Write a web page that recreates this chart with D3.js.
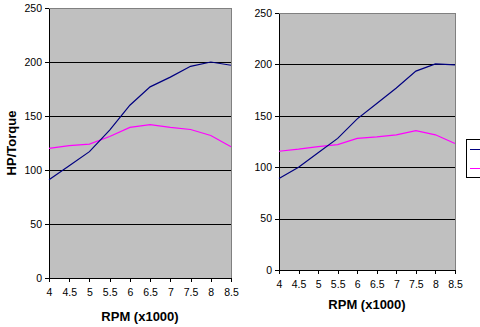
<!DOCTYPE html>
<html><head><meta charset="utf-8">
<script src="https://cdn.jsdelivr.net/npm/d3@7"></script>
<style>
body{margin:0;background:#fff;}
svg{display:block;font-family:"Liberation Sans",Arial,sans-serif;}
</style></head>
<body>
<svg id="c" width="480" height="327"></svg>
<script>
const rpm = [4, 4.5, 5, 5.5, 6, 6.5, 7, 7.5, 8, 8.5];
const xTicks = [4, 4.5, 5, 5.5, 6, 6.5, 7, 7.5, 8, 8.5];
const yTicks = [0, 50, 100, 150, 200, 250];
const leftHP     = [91, 104, 117, 137, 160, 177, 186, 196, 200, 197];
const leftTorque = [120, 122.5, 124, 131, 139.5, 142, 139.5, 137.5, 132, 121.5];
const rightHP     = [89, 100, 114, 128, 147, 162, 177, 193.5, 200.5, 199.5];
const rightTorque = [115.5, 117.5, 120, 122, 128, 129.5, 131.5, 135.5, 131.5, 123];
const yTitle = "HP/Torque";
const xTitle = "RPM (x1000)";

const svg = d3.select("#c");

function chart(cfg){
  const g = svg.append("g");
  const x = d3.scaleLinear().domain([4, 8.5]).range([cfg.x0, cfg.x1]);
  const y = d3.scaleLinear().domain([0, 250]).range([cfg.y1, cfg.y0]);
  g.append("rect").attr("x", cfg.x0).attr("y", cfg.y0)
    .attr("width", cfg.x1 - cfg.x0).attr("height", cfg.y1 - cfg.y0)
    .attr("fill", "#C0C0C0").attr("stroke", "#808080").attr("stroke-width", 1)
    .attr("shape-rendering", "crispEdges");
  // gridlines
  g.selectAll(".grid").data(yTicks.filter(d => d > 0 && d < 250)).enter().append("line")
    .attr("x1", cfg.x0).attr("x2", cfg.x1)
    .attr("y1", d => Math.round(y(d)) + 0.5).attr("y2", d => Math.round(y(d)) + 0.5)
    .attr("stroke", "#000").attr("stroke-width", 1);
  // axes
  const ya = d3.axisLeft(y).tickValues(yTicks).tickSize(4).tickSizeOuter(0).tickPadding(3);
  const yg = g.append("g").attr("transform", `translate(${cfg.x0},0)`).call(ya);
  const xa = d3.axisBottom(x).tickValues(xTicks).tickSize(4).tickSizeOuter(0).tickPadding(7)
    .tickFormat(d3.format("~g"));
  const xg = g.append("g").attr("transform", `translate(0,${cfg.y1})`).call(xa);
  [yg, xg].forEach(a => {
    a.selectAll("path,line").attr("stroke", "#000").attr("shape-rendering", "crispEdges");
    a.selectAll("text").attr("font-size", 10.5).attr("fill", "#000")
      .attr("font-family", "Liberation Sans, Arial, sans-serif");
  });
  // lines
  const line = d3.line().x((d, i) => x(rpm[i])).y(d => y(d));
  g.append("path").datum(cfg.torque).attr("d", line).attr("fill", "none")
    .attr("stroke", "#FF00FF").attr("stroke-width", 1.2);
  g.append("path").datum(cfg.hp).attr("d", line).attr("fill", "none")
    .attr("stroke", "#000080").attr("stroke-width", 1.2);
  // x title
  g.append("text").attr("x", (cfg.x0 + cfg.x1) / 2).attr("y", cfg.xTitleY)
    .attr("text-anchor", "middle").attr("font-weight", "bold").attr("font-size", 13)
    .text(xTitle);
  return {x, y};
}

chart({x0: 49, x1: 231, y0: 8, y1: 278, hp: leftHP, torque: leftTorque, xTitleY: 321});
chart({x0: 279, x1: 455, y0: 13, y1: 270, hp: rightHP, torque: rightTorque, xTitleY: 309});

svg.append("text").attr("transform", "translate(16,143) rotate(-90)")
  .attr("text-anchor", "middle").attr("font-weight", "bold").attr("font-size", 13)
  .text(yTitle);

// legend (cut off at right edge)
const lg = svg.append("g");
lg.append("rect").attr("x", 466.5).attr("y", 139.5).attr("width", 30).attr("height", 38)
  .attr("fill", "#fff").attr("stroke", "#000").attr("stroke-width", 1);
const legendSeries = [{c: "#000080"}, {c: "#FF00FF"}];
lg.selectAll(".ll").data(legendSeries).enter().append("line")
  .attr("x1", 470).attr("x2", 480)
  .attr("y1", (d, i) => 149.5 + i * 19).attr("y2", (d, i) => 149.5 + i * 19)
  .attr("stroke", d => d.c).attr("stroke-width", 1);
</script>
</body></html>
